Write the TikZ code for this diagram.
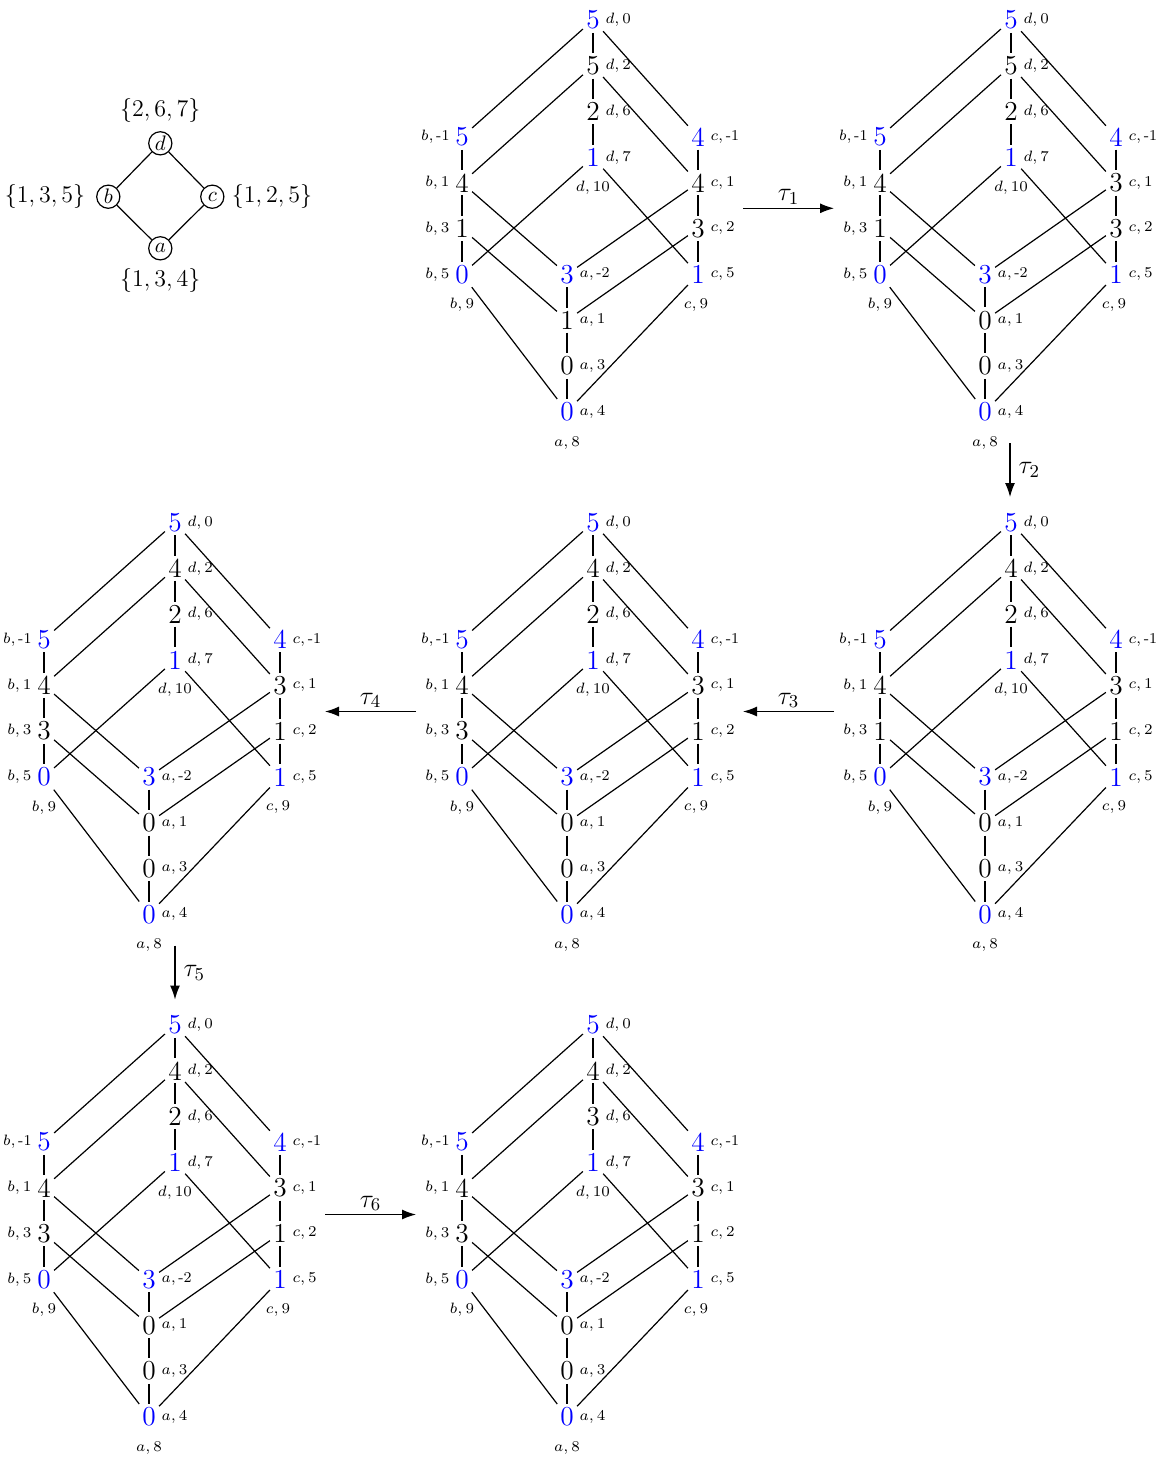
\RequirePackage{fix-cm}
\documentclass[tikz,border=0pt]{standalone}
\usetikzlibrary{arrows.meta}
\begin{document}
\begin{tikzpicture}[x=0.5pt,y=-0.5pt,
  num/.style={inner sep=1.5pt, font=\fontsize{13.7}{16}\selectfont},
  hi/.style={num, text=blue},
  lo/.style={num, text=black},
  lab/.style={font=\fontsize{7.5}{9}\selectfont, inner sep=1pt, text=black},
  edge/.style={line width=0.6pt},
  arr/.style={line width=0.6pt, -{Latex[length=7pt,width=5pt]}},
  tau/.style={font=\fontsize{13}{15}\selectfont},
  elt/.style={draw, circle, inner sep=0pt, minimum size=11.6pt, line width=0.6pt, font=\fontsize{10.5}{12}\selectfont},
  setlab/.style={font=\fontsize{12}{14}\selectfont}]
\useasboundingbox (0,0) rectangle (1159,1457);

% small poset
\node[elt] (pd) at (160.3,143.3) {$d$};
\node[elt] (pb) at (108.3,196.7) {$b$};
\node[elt] (pc) at (212.3,196.7) {$c$};
\node[elt] (pa) at (160.3,248.3) {$a$};
\draw[edge] (pd) -- (pb) -- (pa) -- (pc) -- (pd);
\node[setlab] (sd) at (160.3,110) {$\{2,6,7\}$};
\node[setlab] (sb) at (45,196.7) {$\{1,3,5\}$};
\node[setlab] (sc) at (272,196.7) {$\{1,2,5\}$};
\node[setlab] (sa) at (160.3,280) {$\{1,3,4\}$};

% lattices
\foreach \nm/\X/\Y/\dA/\dB/\dC/\dD/\bA/\bB/\bC/\bD/\cA/\cB/\cC/\cD/\aA/\aB/\aC/\aD in {
  L1/462/20/5/5/2/1/5/4/1/0/4/4/3/1/3/1/0/0,
  L2/880/20/5/5/2/1/5/4/1/0/4/3/3/1/3/0/0/0,
  L3/880/522.5/5/4/2/1/5/4/1/0/4/3/1/1/3/0/0/0,
  L4/462/522.5/5/4/2/1/5/4/3/0/4/3/1/1/3/0/0/0,
  L5/44/522.5/5/4/2/1/5/4/3/0/4/3/1/1/3/0/0/0,
  L6/44/1025/5/4/2/1/5/4/3/0/4/3/1/1/3/0/0/0,
  L7/462/1025/5/4/3/1/5/4/3/0/4/3/1/1/3/0/0/0}{
\begin{scope}[shift={(\X,\Y)}]
  \node[hi,label={[lab]right:{$d,0$}}] (\nm-d0) at (131,0) {\dA};
  \node[lo,label={[lab]right:{$d,2$}}] (\nm-d1) at (131,45.8) {\dB};
  \node[lo,label={[lab]right:{$d,6$}}] (\nm-d2) at (131,91.6) {\dC};
  \node[hi,label={[lab]right:{$d,7$}}] (\nm-d3) at (131,137.4) {\dD};
  \node[lab] (\nm-d10) at (131,167.7) {$d,10$};
  \node[hi,label={[lab]left:{$b,$\,-1}}] (\nm-b0) at (0,117) {\bA};
  \node[lo,label={[lab]left:{$b,1$}}] (\nm-b1) at (0,162.8) {\bB};
  \node[lo,label={[lab]left:{$b,3$}}] (\nm-b2) at (0,208.6) {\bC};
  \node[hi,label={[lab]left:{$b,5$}}] (\nm-b3) at (0,254.4) {\bD};
  \node[lab] (\nm-b9) at (0,285) {$b,9$};
  \node[hi,label={[lab]right:{$c,$\,-1}}] (\nm-c0) at (236,117) {\cA};
  \node[lo,label={[lab]right:{$c,1$}}] (\nm-c1) at (236,162.8) {\cB};
  \node[lo,label={[lab]right:{$c,2$}}] (\nm-c2) at (236,208.6) {\cC};
  \node[hi,label={[lab]right:{$c,5$}}] (\nm-c3) at (236,254.4) {\cD};
  \node[lab] (\nm-c9) at (234,285) {$c,9$};
  \node[hi,label={[lab]right:{$a,$\,-2}}] (\nm-a0) at (105,254.4) {\aA};
  \node[lo,label={[lab]right:{$a,1$}}] (\nm-a1) at (105,300.2) {\aB};
  \node[lo,label={[lab]right:{$a,3$}}] (\nm-a2) at (105,346) {\aC};
  \node[hi,label={[lab]right:{$a,4$}}] (\nm-a3) at (105,391.8) {\aD};
  \node[lab] (\nm-a8) at (105,422.7) {$a,8$};
  \draw[edge] (\nm-d0) -- (\nm-d1) -- (\nm-d2) -- (\nm-d3);
  \draw[edge] (\nm-b0) -- (\nm-b1) -- (\nm-b2) -- (\nm-b3);
  \draw[edge] (\nm-c0) -- (\nm-c1) -- (\nm-c2) -- (\nm-c3);
  \draw[edge] (\nm-a0) -- (\nm-a1) -- (\nm-a2) -- (\nm-a3);
  \draw[edge] (\nm-d0) -- (\nm-b0);
  \draw[edge] (\nm-d0) -- (\nm-c0);
  \draw[edge] (\nm-d1) -- (\nm-b1);
  \draw[edge] (\nm-d1) -- (\nm-c1);
  \draw[edge] (\nm-d3) -- (\nm-b3);
  \draw[edge] (\nm-d3) -- (\nm-c3);
  \draw[edge] (\nm-b1) -- (\nm-a0);
  \draw[edge] (\nm-c1) -- (\nm-a0);
  \draw[edge] (\nm-b2) -- (\nm-a1);
  \draw[edge] (\nm-c2) -- (\nm-a1);
  \draw[edge] (\nm-b3) -- (\nm-a3);
  \draw[edge] (\nm-c3) -- (\nm-a3);
\end{scope}
}

% arrows
\coordinate (t1a) at (743,208.3);  \coordinate (t1b) at (834,208.3);
\coordinate (t2a) at (1010,443);   \coordinate (t2b) at (1010,497);
\coordinate (t3a) at (834,711.5);  \coordinate (t3b) at (743,711.5);
\coordinate (t4a) at (416,711.5);  \coordinate (t4b) at (325,711.5);
\coordinate (t5a) at (175,945.5);  \coordinate (t5b) at (175,999.5);
\coordinate (t6a) at (325,1214.5); \coordinate (t6b) at (416,1214.5);
\draw[arr] (t1a) -- node[tau, above, inner sep=1.5pt] (l1) {$\tau_1$} (t1b);
\draw[arr] (t2a) -- node[tau, right, inner sep=4pt] (l2) {$\tau_2$} (t2b);
\draw[arr] (t3a) -- node[tau, above, inner sep=1.5pt] (l3) {$\tau_3$} (t3b);
\draw[arr] (t4a) -- node[tau, above, inner sep=1.5pt] (l4) {$\tau_4$} (t4b);
\draw[arr] (t5a) -- node[tau, right, inner sep=4pt] (l5) {$\tau_5$} (t5b);
\draw[arr] (t6a) -- node[tau, above, inner sep=1.5pt] (l6) {$\tau_6$} (t6b);
\end{tikzpicture}
\end{document}
